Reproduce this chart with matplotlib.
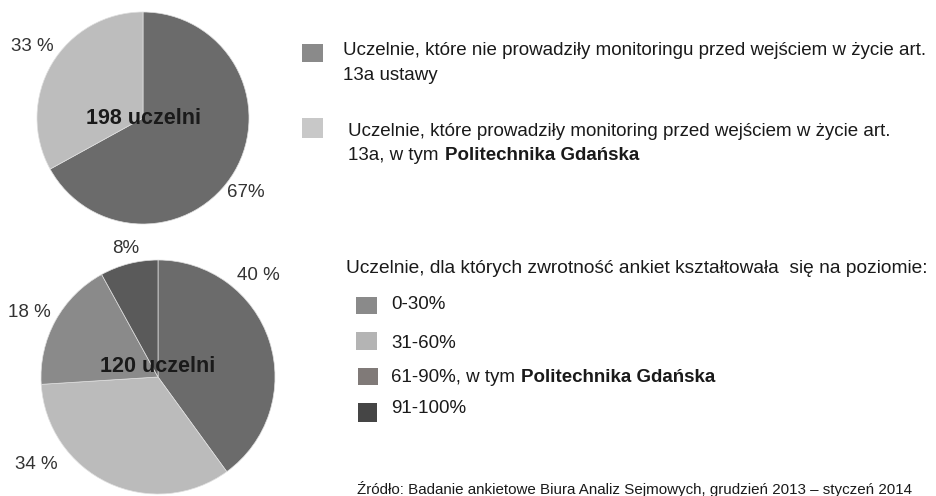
import matplotlib
matplotlib.use("Agg")
import matplotlib.pyplot as plt

plt.rcParams['font.family'] = ['Liberation Sans', 'DejaVu Sans']

# ---- data ----
top_values = [67, 33]
top_colors = ['#6b6b6b', '#bdbdbd']
top_pct_labels = ['67%', '33 %']
top_center = '198 uczelni'

bottom_values = [40, 34, 18, 8]
bottom_colors = ['#6b6b6b', '#bbbbbb', '#8a8a8a', '#5a5a5a']
bottom_pct_labels = ['40 %', '34 %', '18 %', '8%']
bottom_center = '120 uczelni'

legend1_colors = ['#8a8a8a', '#c8c8c8']
legend1_lines = [
    ("Uczelnie, które nie prowadziły monitoringu przed wejściem w życie art.", "13a ustawy", ""),
    ("Uczelnie, które prowadziły monitoring przed wejściem w życie art.", "13a, w tym ", "Politechnika Gdańska"),
]
legend2_title = "Uczelnie, dla których zwrotność ankiet kształtowała  się na poziomie:"
legend2_labels = ["0-30%", "31-60%", "61-90%, w tym ", "91-100%"]
legend2_bold = ["", "", "Politechnika Gdańska", ""]
legend2_colors = ['#8a8a8a', '#b4b4b4', '#807a78', '#454545']
source = "Źródło: Badanie ankietowe Biura Analiz Sejmowych, grudzień 2013 – styczeń 2014"

W, H = 936, 496
fig = plt.figure(figsize=(W / 100, H / 100), dpi=100)
fig.patch.set_facecolor('white')


def px_axes(cx, cy, r):
    return fig.add_axes([(cx - r) / W, (H - cy - r) / H, 2 * r / W, 2 * r / H])


def ftext(x, y, s, **kw):
    return fig.text(x / W, 1 - y / H, s, **kw)


TXT = '#1a1a1a'
FS = 13.5
PFS = 13.5
CFS = 15.5

# ---- top pie ----
ax1 = px_axes(143, 118, 106)
ax1.pie(top_values, colors=top_colors, startangle=90, counterclock=False,
        radius=1, wedgeprops=dict(edgecolor='#e0e0e0', linewidth=0.5))
ax1.set_xlim(-1, 1); ax1.set_ylim(-1, 1); ax1.set_aspect('equal'); ax1.axis('off')
top_label_pos = [(0.97, -0.70), (-1.04, 0.67)]
for lab, (x, y) in zip(top_pct_labels, top_label_pos):
    ax1.text(x, y, lab, ha='center', va='center', fontsize=PFS, color='#333333', clip_on=False)
ax1.text(0, 0, top_center, ha='center', va='center', fontsize=CFS, fontweight='bold', color=TXT)

# ---- bottom pie ----
ax2 = px_axes(158, 377, 117)
ax2.pie(bottom_values, colors=bottom_colors, startangle=90, counterclock=False,
        radius=1, wedgeprops=dict(edgecolor='#e0e0e0', linewidth=0.5))
ax2.set_xlim(-1, 1); ax2.set_ylim(-1, 1); ax2.set_aspect('equal'); ax2.axis('off')
bottom_label_pos = [(0.86, 0.87), (-1.04, -0.75), (-1.10, 0.55), (-0.28, 1.10)]
for lab, (x, y) in zip(bottom_pct_labels, bottom_label_pos):
    ax2.text(x, y, lab, ha='center', va='center', fontsize=PFS, color='#333333', clip_on=False)
ax2.text(0, 0.09, bottom_center, ha='center', va='center', fontsize=CFS, fontweight='bold', color=TXT)

fig.canvas.draw()
renderer = fig.canvas.get_renderer()


def mixed(x, y, normal, bold, fs=FS):
    t = ftext(x, y, normal, fontsize=fs, color=TXT, va='baseline', ha='left')
    if bold:
        bb = t.get_window_extent(renderer=renderer)
        ftext(bb.x1 + 1, y, bold, fontsize=fs, color=TXT, va='baseline', ha='left', fontweight='bold')


def square(x0, y0, x1, y1, color):
    fig.patches.append(plt.Rectangle((x0 / W, 1 - y1 / H), (x1 - x0) / W, (y1 - y0) / H,
                                     transform=fig.transFigure, facecolor=color,
                                     edgecolor='none', figure=fig))


# ---- legend 1 ----
leg1_rows = [((302, 44, 323, 62), 343, 55, 80), ((302, 118, 323, 138), 348, 136, 160)]
for (sq, tx, y1, y2), col, (l1, l2, b) in zip(leg1_rows, legend1_colors, legend1_lines):
    square(*sq, col)
    mixed(tx, y1, l1, "")
    mixed(tx, y2, l2, b)

# ---- legend 2 ----
mixed(346, 273, legend2_title, "", fs=13.8)
rows = [((356, 297, 377, 314), 309), ((356, 332, 377, 350), 348),
        ((358, 368, 378, 385), 382), ((358, 403, 377, 422), 413)]
for (sq, base), lab, b, col in zip(rows, legend2_labels, legend2_bold, legend2_colors):
    square(*sq, col)
    mixed(391, base, lab, b)

mixed(357, 494, source, "", fs=10.9)

fig.savefig('out.png', dpi=100, facecolor='white')
